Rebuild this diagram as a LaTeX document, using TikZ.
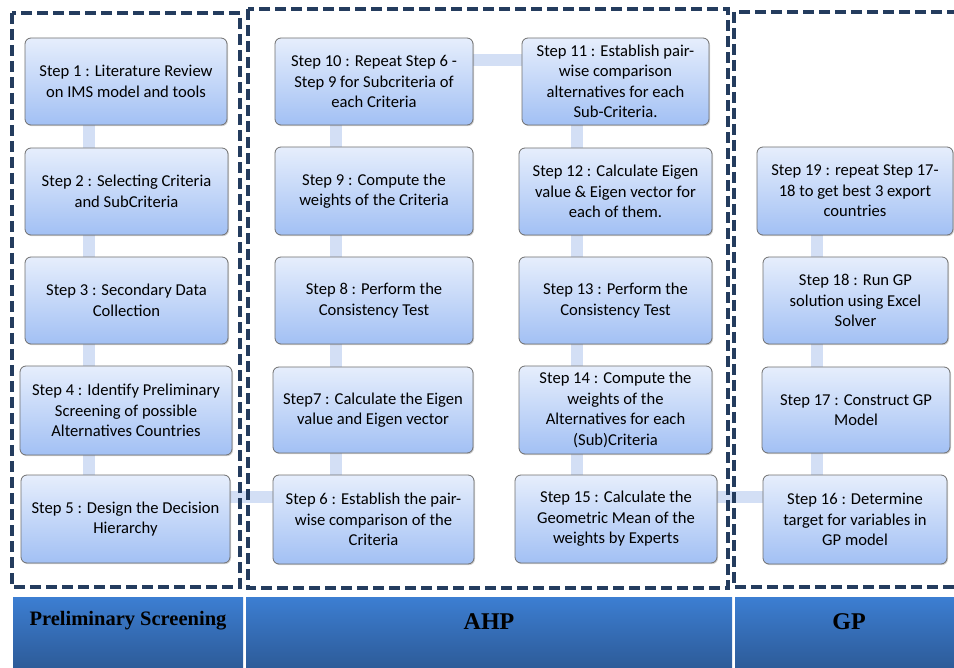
\documentclass[tikz,border=0pt]{standalone}
\usepackage{fontspec}
\setmainfont{Carlito}
\newfontfamily\bandfont{Liberation Serif}
\usepackage{tikz}
\usetikzlibrary{shadows,backgrounds}
\definecolor{boxTop}{HTML}{E6EEFC}
\definecolor{boxBottom}{HTML}{A2C0F4}
\definecolor{boxEdge}{HTML}{6F6F6F}
\definecolor{linkBlue}{HTML}{D3DFF5}
\definecolor{frameNavy}{HTML}{243C5E}
\definecolor{bandTop}{HTML}{3C7ED2}
\definecolor{bandBottom}{HTML}{2D5B98}
\tikzset{
  stepbox/.style={draw=boxEdge, line width=0.8pt, rounded corners=6pt,
    top color=boxTop, bottom color=boxBottom, minimum height=87pt,
    align=center, inner sep=2pt, font=\fontsize{16.6}{20.5}\selectfont,
    drop shadow={shadow xshift=1pt,shadow yshift=-1.2pt,opacity=0.35}},
  link/.style={linkBlue, line width=12pt},
  frame/.style={frameNavy, line width=3.5pt, dash pattern=on 11pt off 5pt},
  band/.style={top color=bandTop, bottom color=bandBottom, draw=none,
    minimum height=71pt, anchor=north west, inner sep=0pt},
  bandlabel/.style={font=\bandfont\bfseries\fontsize{24}{28}\selectfont, inner sep=0pt},
}
\begin{document}
\begin{tikzpicture}[x=1pt,y=-1pt]
\useasboundingbox (0,0) rectangle (954,668);
\clip (0,0) rectangle (954,668);

% Preliminary Screening
\node[stepbox,minimum width=202pt] (s1) at (126,81.5) {Step 1 : Literature Review\\on IMS model and tools};
\node[stepbox,minimum width=203pt] (s2) at (126.5,191.5) {Step 2 : Selecting Criteria\\and SubCriteria};
\node[stepbox,minimum width=203pt] (s3) at (126.5,300.5) {Step 3 : Secondary Data\\Collection};
\node[stepbox,minimum width=212pt,minimum height=89pt] (s4) at (126,410.5) {Step 4 : Identify Preliminary\\Screening of possible\\Alternatives Countries};
\node[stepbox,minimum width=209pt,minimum height=88pt] (s5) at (125.5,519) {Step 5 : Design the Decision\\Hierarchy};

% AHP
\node[stepbox,minimum width=198pt] (s10) at (374,81.5) {Step 10 : Repeat Step 6 -\\Step 9 for Subcriteria of\\each Criteria};
\node[stepbox,minimum width=198pt,minimum height=88pt] (s9) at (374,191) {Step 9 : Compute the\\weights of the Criteria};
\node[stepbox,minimum width=198pt] (s8) at (374,300.5) {Step 8 : Perform the\\Consistency Test};
\node[stepbox,minimum width=200pt,minimum height=86pt] (s7) at (373,410) {Step7 : Calculate the Eigen\\value and Eigen vector};
\node[stepbox,minimum width=201pt,minimum height=89pt] (s6) at (373.5,519.5) {Step 6 : Establish the pair-\\wise comparison of the\\Criteria};
\node[stepbox,minimum width=187pt] (s11) at (615.5,81.5) {Step 11 : Establish pair-\\wise comparison\\alternatives for each\\Sub-Criteria.};
\node[stepbox,minimum width=193pt] (s12) at (615.5,191.5) {Step 12 : Calculate Eigen\\value \& Eigen vector for\\each of them.};
\node[stepbox,minimum width=193pt] (s13) at (615.5,300.5) {Step 13 : Perform the\\Consistency Test};
\node[stepbox,minimum width=193pt,minimum height=88pt] (s14) at (615.5,410) {Step 14 : Compute the\\weights of the\\Alternatives for each\\(Sub)Criteria};
\node[stepbox,minimum width=202pt,minimum height=88pt] (s15) at (616,519) {Step 15 : Calculate the\\Geometric Mean of the\\weights by Experts};

% GP
\node[stepbox,minimum width=196pt,minimum height=88pt] (s19) at (855,191) {Step 19 : repeat Step 17-\\18 to get best 3 export\\countries};
\node[stepbox,minimum width=185pt] (s18) at (855.5,300.5) {Step 18 : Run GP\\solution using Excel\\Solver};
\node[stepbox,minimum width=188pt,minimum height=86pt] (s17) at (856,410) {Step 17 : Construct GP\\Model};
\node[stepbox,minimum width=184pt,minimum height=89pt] (s16) at (855,519.5) {Step 16 : Determine\\target for variables in\\GP model};

\coordinate (c1) at (89,0);
\coordinate (c2) at (336,0);
\coordinate (c3) at (577,0);
\coordinate (c4) at (817,0);
\coordinate (r1) at (0,60);
\coordinate (r2) at (0,497);

\begin{scope}[on background layer]
\foreach \a/\b/\c in {s1/s2/c1,s2/s3/c1,s3/s4/c1,s4/s5/c1,
    s10/s9/c2,s9/s8/c2,s8/s7/c2,s7/s6/c2,
    s11/s12/c3,s12/s13/c3,s13/s14/c3,s14/s15/c3,
    s19/s18/c4,s18/s17/c4,s17/s16/c4}
  \draw[link] (\a.south -| \c) -- (\b.north -| \c);
\draw[link] (s5.east |- r2) -- (s6.west |- r2);
\draw[link] (s10.east |- r1) -- (s11.west |- r1);
\draw[link] (s15.east |- r2) -- (s16.west |- r2);
% dashed phase frames
\draw[frame] (12,13) rectangle (240,587);
\draw[frame] (248,9) rectangle (728,588);
\draw[frame] (734,12) rectangle (975,587);
\end{scope}

% phase bands
\node[band,minimum width=230pt] (b1) at (13,597) {};
\node[band,minimum width=486pt] (b2) at (246,597) {};
\node[band,minimum width=225pt] (b3) at (735,597) {};
\node[bandlabel,font=\bandfont\bfseries\fontsize{20.5}{24}\selectfont] (t1) at (128,621) {Preliminary Screening};
\node[bandlabel] (t2) at (489,622) {AHP};
\node[bandlabel] (t3) at (849,622) {GP};
\end{tikzpicture}
\end{document}
